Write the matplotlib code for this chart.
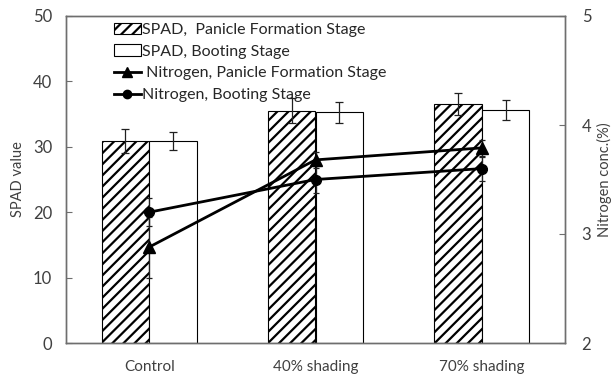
import numpy as np
import matplotlib
matplotlib.use("Agg")
import matplotlib.pyplot as plt
from matplotlib.lines import Line2D
from matplotlib.patches import Patch

# data
treatments = ["Control", "40% shading", "70% shading"]
spad_panicle = [30.9, 35.5, 36.6]
spad_panicle_err = [1.8, 1.9, 1.7]
spad_booting = [30.9, 35.3, 35.6]
spad_booting_err = [1.4, 1.6, 1.5]
n_panicle = [2.88, 3.68, 3.79]
n_panicle_err = [0.28, 0.07, 0.07]
n_booting = [3.20, 3.50, 3.60]
n_booting_err = [0.13, 0.12, 0.11]

plt.rcParams['font.family'] = ['Lato', 'DejaVu Sans']
plt.rcParams['hatch.linewidth'] = 1.6
txt = '#404040'
spine_c = '#6e6e6e'

fig = plt.figure(figsize=(6.14, 3.76), dpi=100)
ax = fig.add_axes([66 / 614, 1 - 343 / 376, 499 / 614, 327 / 376])
x = np.arange(len(treatments))
w = 0.285

ax.bar(x - w / 2, spad_panicle, w, color='white', edgecolor='black',
       hatch='///', linewidth=0.8, zorder=2)
ax.bar(x + w / 2, spad_booting, w, color='white', edgecolor='black',
       linewidth=0.8, zorder=2)
ax.errorbar(x - w / 2, spad_panicle, yerr=spad_panicle_err, fmt='none',
            ecolor='#202020', elinewidth=0.9, capsize=3, capthick=0.9, zorder=3)
ax.errorbar(x + w / 2, spad_booting, yerr=spad_booting_err, fmt='none',
            ecolor='#202020', elinewidth=0.9, capsize=3, capthick=0.9, zorder=3)

ax.set_xlim(-0.5, 2.5)
ax.set_ylim(0, 50)
ax.set_yticks([0, 10, 20, 30, 40, 50])
ax.set_xticks(x)
ax.set_xticklabels(treatments)
ax.set_ylabel('SPAD value', fontsize=10.5, color=txt, labelpad=6)
ax.tick_params(axis='x', length=0, pad=12, labelsize=11, labelcolor=txt)
ax.tick_params(axis='y', direction='in', length=4, labelsize=12,
               labelcolor=txt, color=spine_c, pad=10)

ax2 = ax.twinx()
ax2.errorbar(x, n_panicle, yerr=n_panicle_err, color='black', lw=2,
             marker='^', ms=8, ecolor='#202020', elinewidth=0.9,
             capsize=2.5, capthick=0.9, zorder=4)
ax2.errorbar(x, n_booting, yerr=n_booting_err, color='black', lw=2,
             marker='o', ms=7, ecolor='#202020', elinewidth=0.9,
             capsize=2.5, capthick=0.9, zorder=4)
ax2.set_ylim(2, 5)
ax2.set_yticks([2, 3, 4, 5])
ax2.set_ylabel('Nitrogen conc.(%)', fontsize=10.5, color=txt, labelpad=4)
ax2.tick_params(axis='y', direction='in', length=4, labelsize=12,
                labelcolor=txt, color=spine_c, pad=12)

for a in (ax, ax2):
    for s in a.spines.values():
        s.set_color(spine_c)
        s.set_linewidth(1.0)

handles = [
    Patch(facecolor='white', edgecolor='black', hatch='///', linewidth=0.8),
    Patch(facecolor='white', edgecolor='black', linewidth=0.8),
    Line2D([0], [0], color='black', lw=2, marker='^', ms=7),
    Line2D([0], [0], color='black', lw=2, marker='o', ms=6),
]
labels = ['SPAD,  Panicle Formation Stage', 'SPAD, Booting Stage',
          ' Nitrogen, Panicle Formation Stage', 'Nitrogen, Booting Stage']
leg = ax2.legend(handles, labels, loc='upper left',
                 bbox_to_anchor=(0.092, 0.985), frameon=False, fontsize=11.5,
                 handlelength=1.7, handletextpad=0.1, labelspacing=0.48,
                 borderaxespad=0.1, borderpad=0)
for t in leg.get_texts():
    t.set_color('#262626')

fig.savefig('out.png', dpi=100)
